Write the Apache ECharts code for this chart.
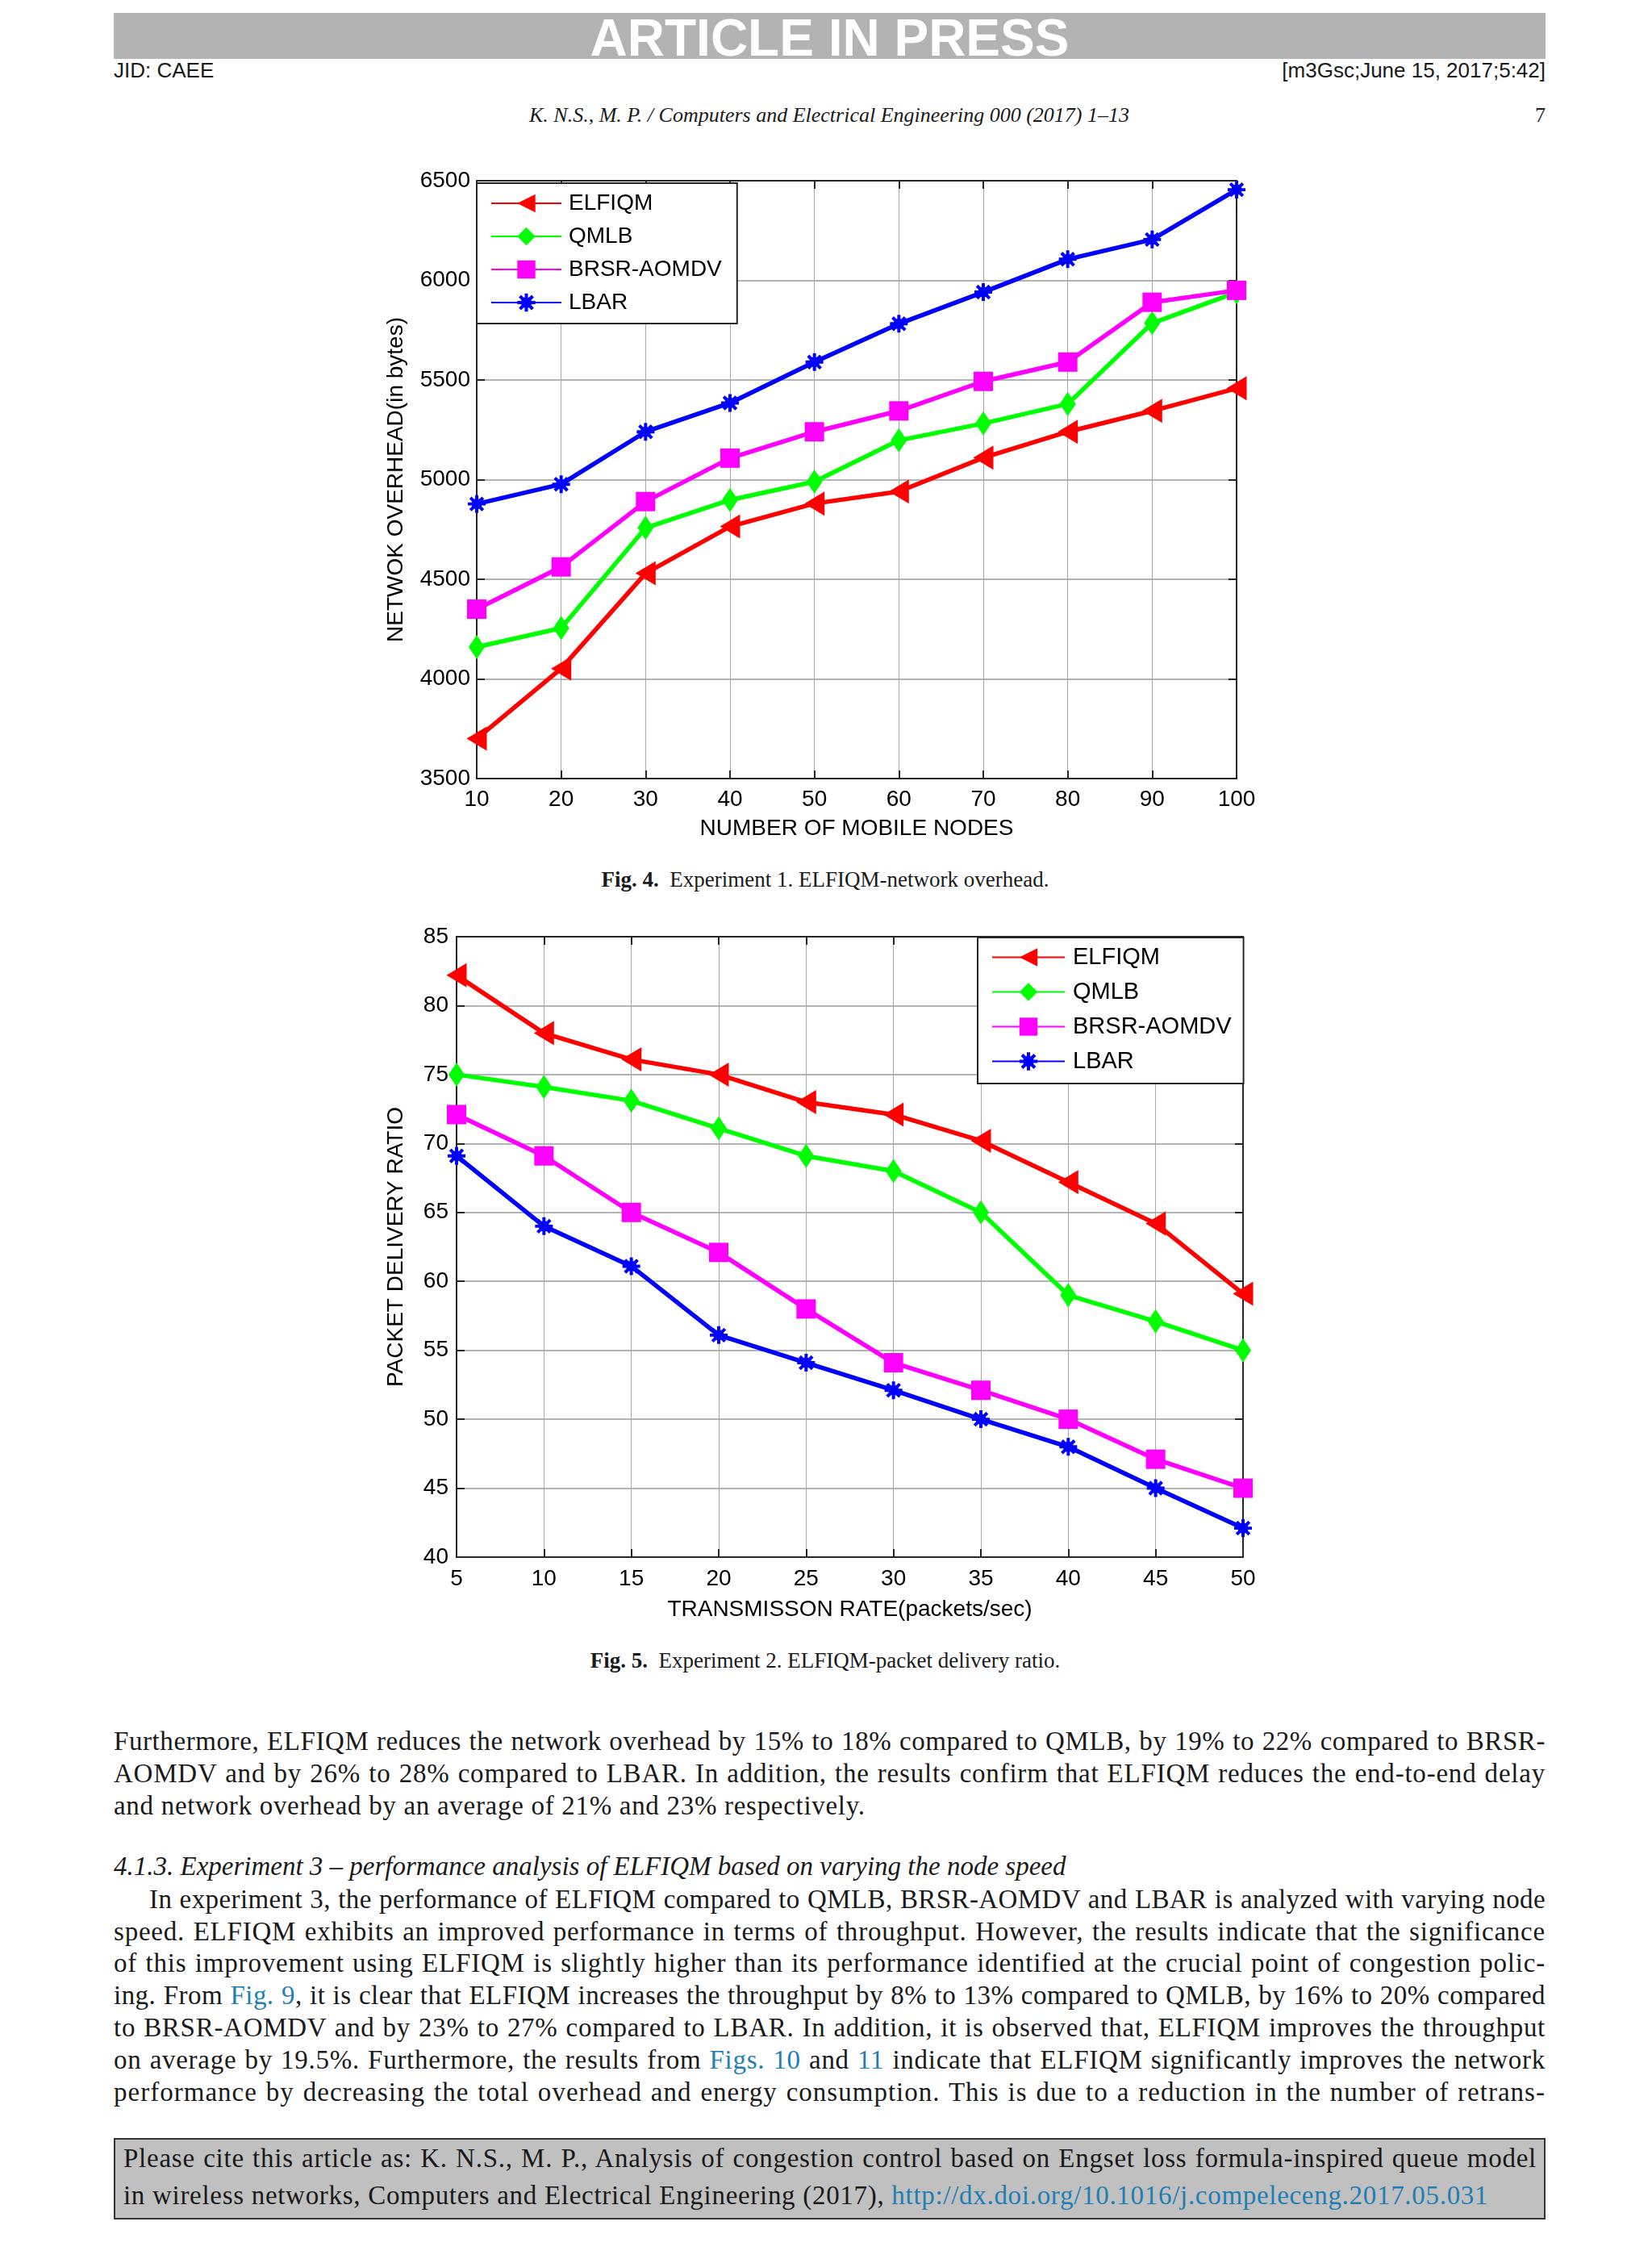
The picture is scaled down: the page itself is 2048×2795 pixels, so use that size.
<!DOCTYPE html>
<html><head><meta charset="utf-8">
<script src="https://cdn.jsdelivr.net/npm/echarts@6/dist/echarts.min.js"></script>
<style>
html,body{margin:0;padding:0;background:#fff}
body{width:2048px;height:2795px;position:relative;overflow:hidden}
.abs{position:absolute;white-space:nowrap}
.serif{font-family:"Liberation Serif","Times New Roman",serif;color:#1a1a1a}
.sans{font-family:"Liberation Sans",Arial,sans-serif;color:#1a1a1a}
.line{left:141px;width:1775px;height:40px;line-height:40px;font-size:33px;text-align:justify;text-align-last:justify}
.line.last{text-align-last:left;letter-spacing:0.7px}
.lnk{color:#1f7fb4}
#band{left:141px;top:16px;width:1775px;height:57px;background:#b3b3b3;color:#fff;font:bold 64px "Liberation Sans",Arial,sans-serif;text-align:center;line-height:63px;overflow:visible}
#cite{left:141px;top:2650px;width:1771px;height:97px;background:#c0c0c0;border:2px solid #333}
</style></head><body>
<div id="band" class="abs">ARTICLE IN PRESS</div>
<div class="abs sans" style="left:141px;top:72px;font-size:26px;line-height:30px">JID: CAEE</div>
<div class="abs sans" style="right:132px;top:72px;font-size:26px;line-height:30px">[m3Gsc;June 15, 2017;5:42]</div>
<div class="abs serif" style="left:0;width:2056px;top:128px;font-size:26px;line-height:30px;text-align:center;font-style:italic">K. N.S., M. P. / Computers and Electrical Engineering 000 (2017) 1–13</div>
<div class="abs serif" style="right:132px;top:128px;font-size:26px;line-height:30px">7</div>

<div id="c1" class="abs" style="left:0;top:180px;width:2048px;height:880px"></div>
<div class="abs serif" style="left:0;width:2046px;top:1074px;font-size:27px;line-height:32px;text-align:center"><b>Fig. 4.</b>&nbsp;&nbsp;Experiment 1. ELFIQM-network overhead.</div>

<div id="c2" class="abs" style="left:0;top:1120px;width:2048px;height:920px"></div>
<div class="abs serif" style="left:0;width:2046px;top:2042px;font-size:27px;line-height:32px;text-align:center"><b>Fig. 5.</b>&nbsp;&nbsp;Experiment 2. ELFIQM-packet delivery ratio.</div>

<div class="abs serif line fit" style="top:2138px">Furthermore, ELFIQM reduces the network overhead by 15% to 18% compared to QMLB, by 19% to 22% compared to BRSR-</div>
<div class="abs serif line fit" style="top:2178px">AOMDV and by 26% to 28% compared to LBAR. In addition, the results confirm that ELFIQM reduces the end-to-end delay</div>
<div class="abs serif line last" style="top:2218px">and network overhead by an average of 21% and 23% respectively.</div>

<div class="abs serif line last" style="top:2293px;font-style:italic;letter-spacing:0">4.1.3. Experiment 3 – performance analysis of ELFIQM based on varying the node speed</div>
<div class="abs serif line fit" style="top:2334px;left:185px;width:1731px">In experiment 3, the performance of ELFIQM compared to QMLB, BRSR-AOMDV and LBAR is analyzed with varying node</div>
<div class="abs serif line fit" style="top:2374px">speed. ELFIQM exhibits an improved performance in terms of throughput. However, the results indicate that the significance</div>
<div class="abs serif line fit" style="top:2413px">of this improvement using ELFIQM is slightly higher than its performance identified at the crucial point of congestion polic-</div>
<div class="abs serif line fit" style="top:2453px">ing. From <span class="lnk">Fig. 9</span>, it is clear that ELFIQM increases the throughput by 8% to 13% compared to QMLB, by 16% to 20% compared</div>
<div class="abs serif line fit" style="top:2493px">to BRSR-AOMDV and by 23% to 27% compared to LBAR. In addition, it is observed that, ELFIQM improves the throughput</div>
<div class="abs serif line fit" style="top:2533px">on average by 19.5%. Furthermore, the results from <span class="lnk">Figs. 10</span> and <span class="lnk">11</span> indicate that ELFIQM significantly improves the network</div>
<div class="abs serif line fit" style="top:2573px">performance by decreasing the total overhead and energy consumption. This is due to a reduction in the number of retrans-</div>

<div id="cite" class="abs"></div>
<div class="abs serif line fit" style="top:2655px;left:153px;width:1752px">Please cite this article as: K. N.S., M. P., Analysis of congestion control based on Engset loss formula-inspired queue model</div>
<div class="abs serif line last" style="top:2701px;left:153px;width:1752px">in wireless networks, Computers and Electrical Engineering (2017), <span class="lnk">http://dx.doi.org/10.1016/j.compeleceng.2017.05.031</span></div>

<script>
// ---------- data ----------
const seriesNames = ['ELFIQM', 'QMLB', 'BRSR-AOMDV', 'LBAR'];

// Fig. 4: network overhead vs number of mobile nodes
const nodes = [10, 20, 30, 40, 50, 60, 70, 80, 90, 100];
const overheadELFIQM = [3700, 4052, 4530, 4765, 4880, 4940, 5110, 5240, 5345, 5458];
const overheadQMLB   = [4160, 4255, 4758, 4898, 4990, 5197, 5282, 5380, 5785, 5940];
const overheadBRSR   = [4350, 4562, 4890, 5108, 5240, 5345, 5493, 5590, 5890, 5950];
const overheadLBAR   = [4878, 4977, 5240, 5385, 5590, 5782, 5941, 6106, 6205, 6455];

// Fig. 5: packet delivery ratio vs transmission rate
const rates = [5, 10, 15, 20, 25, 30, 35, 40, 45, 50];
const pdrELFIQM = [82.2, 78.0, 76.1, 75.0, 73.0, 72.1, 70.2, 67.2, 64.2, 59.1];
const pdrQMLB   = [75.0, 74.1, 73.1, 71.1, 69.1, 68.0, 65.0, 59.0, 57.1, 55.0];
const pdrBRSR   = [72.1, 69.1, 65.0, 62.1, 58.0, 54.1, 52.1, 50.0, 47.1, 45.0];
const pdrLBAR   = [69.1, 64.0, 61.1, 56.1, 54.1, 52.1, 50.0, 48.0, 45.0, 42.1];

// ---------- text fitting (justified lines) ----------
document.querySelectorAll('.fit').forEach(el => {
  const target = el.clientWidth;
  el.style.textAlign = 'left'; el.style.textAlignLast = 'left';
  const span = document.createElement('span');
  while (el.firstChild) span.appendChild(el.firstChild);
  el.appendChild(span);
  const w = span.getBoundingClientRect().width;
  const n = el.textContent.length;
  let ls = (target - w) / n * 0.8;
  ls = Math.max(-2, Math.min(1.6, ls));
  el.style.letterSpacing = ls + 'px';
  el.style.textAlign = 'justify'; el.style.textAlignLast = 'justify';
});

// ---------- styles ----------
const colors = ['#ff0000', '#00ff00', '#ff00ff', '#0000ff'];
const STAR = 'path://M8.2,0L11.8,0L11.8,20L8.2,20Z M0,8.2L20,8.2L20,11.8L0,11.8Z M4.2,1.6L18.4,15.8L15.8,18.4L1.6,4.2Z M15.8,1.6L18.4,4.2L4.2,18.4L1.6,15.8Z M4.5,7L7,4.5L13,4.5L15.5,7L15.5,13L13,15.5L7,15.5L4.5,13Z';
const symbols = ['triangle', 'diamond', 'rect', STAR];
const symbolSizes = [[30, 25], [20, 30], 24, 22];
const symbolRotates = [90, 0, 0, 0];
const FONT = '"Liberation Sans", Arial, sans-serif';
const AX = '#262626';

function makeSeries(xs, ysList) {
  return ysList.map((ys, i) => ({
    name: seriesNames[i], type: 'line',
    data: xs.map((x, k) => [x, ys[k]]),
    symbol: symbols[i], symbolSize: symbolSizes[i], symbolRotate: symbolRotates[i],
    lineStyle: { color: colors[i], width: 5.5 },
    itemStyle: { color: colors[i] },
    z: 3 + i
  }));
}

function axes(xmin, xmax, xint, ymin, ymax, yint, xname, yname, xGap, yGap, yMargin, xMargin) {
  const common = {
    axisLine: { show: true, onZero: false, lineStyle: { color: AX, width: 2 } },
    axisTick: { show: true, inside: true, length: 10, lineStyle: { color: AX, width: 2 } }
  };
  const nameStyle = { fontFamily: FONT, fontSize: 28, color: '#000' };
  const plain = v => String(v);
  return {
    xAxis: [
      Object.assign({ type: 'value', min: xmin, max: xmax, interval: xint, position: 'bottom',
        axisLabel: { fontFamily: FONT, fontSize: 28, color: '#000', margin: xMargin, formatter: plain },
        splitLine: { show: true, lineStyle: { color: '#a8a8a8', width: 1 } },
        name: xname, nameLocation: 'middle', nameGap: xGap, nameTextStyle: nameStyle }, common),
      Object.assign({ type: 'value', min: xmin, max: xmax, interval: xint, position: 'top',
        axisLabel: { show: false }, splitLine: { show: false } }, common)
    ],
    yAxis: [
      Object.assign({ type: 'value', min: ymin, max: ymax, interval: yint, position: 'left',
        axisLabel: { fontFamily: FONT, fontSize: 28, color: '#000', margin: yMargin, formatter: plain },
        splitLine: { show: true, lineStyle: { color: '#b4b4b4', width: 2 } },
        name: yname, nameLocation: 'middle', nameGap: yGap, nameTextStyle: nameStyle }, common),
      Object.assign({ type: 'value', min: ymin, max: ymax, interval: yint, position: 'right',
        axisLabel: { show: false }, splitLine: { show: false } }, common)
    ]
  };
}

// ---------- chart 1 ----------
const c1 = echarts.init(document.getElementById('c1'), null, { renderer: 'canvas' });
const a1 = axes(10, 100, 10, 3500, 6500, 500, 'NUMBER OF MOBILE NODES', 'NETWOK OVERHEAD(in bytes)', 48, 86, 8, 12);
c1.setOption({
  animation: false,
  grid: { left: 591, top: 44, width: 942, height: 741, show: true, borderColor: AX, borderWidth: 2, backgroundColor: '#fff' },
  xAxis: a1.xAxis, yAxis: a1.yAxis,
  legend: {
    orient: 'vertical', left: 591, top: 47, data: seriesNames,
    backgroundColor: '#fff', borderColor: AX, borderWidth: 2,
    padding: [11, 19, 12, 17], itemGap: 13, itemWidth: 87, itemHeight: 28,
    textStyle: { fontFamily: FONT, fontSize: 28, color: '#000', padding: [0, 0, 0, 4] }
  },
  series: makeSeries(nodes, [overheadELFIQM, overheadQMLB, overheadBRSR, overheadLBAR])
});

// ---------- chart 2 ----------
const c2 = echarts.init(document.getElementById('c2'), null, { renderer: 'canvas' });
const a2 = axes(5, 50, 5, 40, 85, 5, 'TRANSMISSON RATE(packets/sec)', 'PACKET DELIVERY RATIO', 51, 61, 10, 13);
c2.setOption({
  animation: false,
  grid: { left: 566, top: 41, width: 975, height: 769, show: true, borderColor: AX, borderWidth: 2, backgroundColor: '#fff' },
  xAxis: a2.xAxis, yAxis: a2.yAxis,
  legend: {
    orient: 'vertical', left: 1212, top: 42, data: seriesNames,
    backgroundColor: '#fff', borderColor: AX, borderWidth: 2,
    padding: [10, 15, 13, 17], itemGap: 14, itemWidth: 90, itemHeight: 28,
    textStyle: { fontFamily: FONT, fontSize: 29, color: '#000', padding: [0, 0, 0, 5] }
  },
  series: makeSeries(rates, [pdrELFIQM, pdrQMLB, pdrBRSR, pdrLBAR])
});
</script>
</body></html>
